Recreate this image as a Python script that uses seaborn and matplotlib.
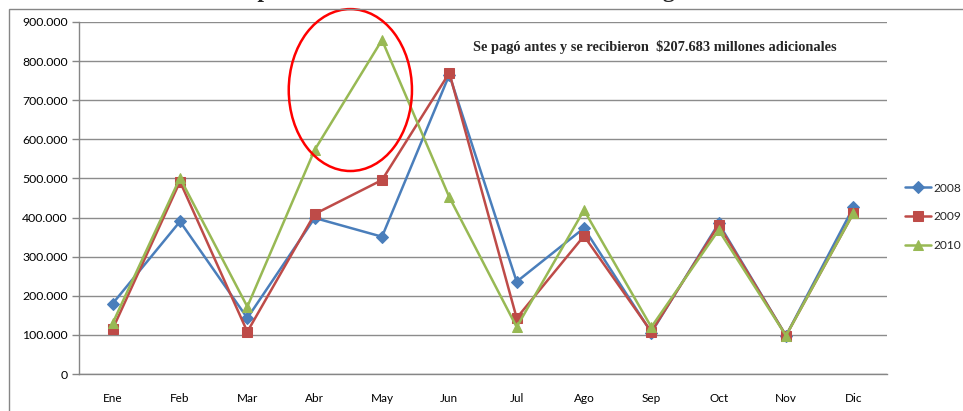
import numpy as np
import pandas as pd
import seaborn as sns
import matplotlib.pyplot as plt
from matplotlib.patches import Ellipse, Rectangle
from matplotlib.ticker import FuncFormatter, FixedLocator, MultipleLocator

months = ["Ene", "Feb", "Mar", "Abr", "May", "Jun", "Jul", "Ago", "Sep", "Oct", "Nov", "Dic"]
years = ["2008", "2009", "2010"]
recaudo_2008 = [180000, 390000, 143000, 399000, 351000, 765000, 236000, 373000, 106000, 385000, 98000, 426000]
recaudo_2009 = [115000, 492000, 108000, 409000, 496000, 770000, 143000, 353000, 108000, 381000, 98000, 411000]
recaudo_2010 = [130000, 501000, 172000, 573000, 854000, 452000, 120000, 419000, 120000, 368000, 98000, 411000]
colors = ["#4A7EBB", "#BE4B48", "#98B954"]
markers = ["D", "s", "^"]
note = "Se pagó antes y se recibieron  $207.683 millones adicionales"
title = "Gráfico 4. Comportamiento del Recaudo Mensual de Ingresos - Tributarios"

df = pd.DataFrame({
    "mes": months * 3,
    "anio": np.repeat(years, len(months)),
    "valor": recaudo_2008 + recaudo_2009 + recaudo_2010,
})

sns.set_style("white")
plt.rcParams["font.family"] = ["Lato", "DejaVu Sans"]

fig = plt.figure(figsize=(9.63, 4.11), dpi=100)
ax = fig.add_axes([79 / 963, 37 / 411, 808 / 963, 352 / 411])

sizes = {"D": 6, "s": 6.5, "^": 7}
for yr, c, m in zip(years, colors, markers):
    sns.lineplot(data=df[df["anio"] == yr], x="mes", y="valor", color=c, marker=m,
                 markersize=sizes[m], markeredgecolor=c, linewidth=1.8, label=yr, ax=ax,
                 sort=False)

ax.set_xlim(-0.5, 11.5)
ax.set_ylim(0, 900000)
ax.yaxis.set_major_locator(MultipleLocator(100000))
ax.yaxis.set_major_formatter(FuncFormatter(lambda v, p: f"{int(v):,}".replace(",", ".")))
ax.xaxis.set_minor_locator(FixedLocator(np.arange(-0.5, 12, 1)))
ax.tick_params(axis="x", which="major", length=0, pad=14, labelsize=8.5, colors="black")
ax.tick_params(axis="x", which="minor", length=5, width=1, color="#868686")
ax.tick_params(axis="y", which="major", length=5, width=1, color="#868686", pad=3,
               labelsize=8.8, labelcolor="black", left=True)
ax.grid(axis="y", color="#8c8c8c", linewidth=1)
ax.set_axisbelow(True)
for s in ["top", "right"]:
    ax.spines[s].set_visible(False)
for s in ["left", "bottom"]:
    ax.spines[s].set_color("#868686")
    ax.spines[s].set_linewidth(1)
ax.set_xlabel("")
ax.set_ylabel("")

h, l = ax.get_legend_handles_labels()
ax.legend(h, l, loc="center left", bbox_to_anchor=(905 / 963, 1 - 217 / 411),
          bbox_transform=fig.transFigure, frameon=False, fontsize=8.6,
          handlelength=2.2, labelspacing=1.5, handletextpad=0.15, borderpad=0,
          borderaxespad=0)

ax.add_patch(Ellipse((3.53, 726000), 1.83, 414000, fill=False, edgecolor="#FF0000",
                     linewidth=1.8, clip_on=False, zorder=5))
ax.text(8.05, 836000, note, family="Liberation Serif", fontweight="bold",
        fontsize=10.4, ha="center", va="center")

fig.patches.append(Rectangle((9 / 963, -0.1), 2, 1.1 - 9 / 411, transform=fig.transFigure,
                             fill=False, edgecolor="#868686", linewidth=1, zorder=0))
# title sits mostly above the canvas, as in the cropped original
fig.text(0.5, 1 + 2.5 / 411, title, family="Liberation Serif", fontweight="bold",
         fontsize=17, ha="center", va="baseline")

fig.savefig("out.png", dpi=100)
